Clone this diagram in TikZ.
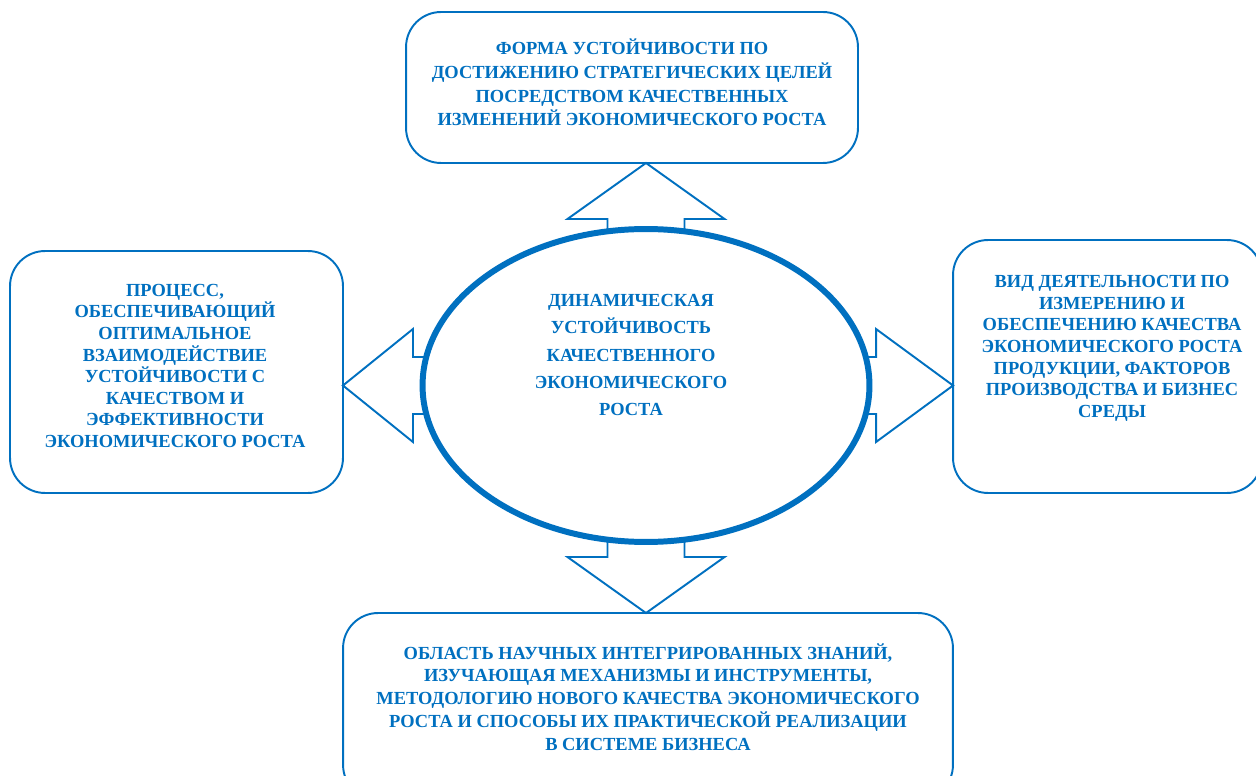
\documentclass[tikz,border=0pt]{standalone}
\usepackage{fontspec}
\setmainfont{Liberation Serif}
\usetikzlibrary{shapes.geometric}

\definecolor{ublue}{HTML}{0070C0}

\tikzset{
  box/.style={draw=ublue, line width=1.1pt, rounded corners=0.7cm, fill=white, inner sep=0pt, outer sep=0pt},
  txt/.style={text=ublue, align=center, inner sep=0pt},
  blockarrow/.style={draw=ublue, line width=1.1pt, fill=white, line join=miter},
}

\begin{document}
\begin{tikzpicture}[x=0.02cm,y=-0.02cm]

    \useasboundingbox (0,0) rectangle (1256,776);
    \clip (0,0) rectangle (1256,776);

    % outer boxes
    \node[box, minimum width=9.04cm, minimum height=3.02cm] (top) at (632,87.5) {};
    \node[box, minimum width=6.66cm, minimum height=4.84cm] (left) at (176.5,372) {};
    \node[box, minimum width=6.18cm, minimum height=5.06cm] (right) at (1107.5,366.5) {};
    \node[box, minimum width=12.2cm, minimum height=3.74cm] (bottom) at (648,706.5) {};

    % centre of the ellipse
    \coordinate (c) at (646,385.5);

    % block arrows
    \draw[blockarrow] (c |- top.south) -- ++(78.5,56) -- ++(-40,0) -- ++(0,50)
      -- ++(-77,0) -- ++(0,-50) -- ++(-40,0) -- cycle;
    \draw[blockarrow] (c |- bottom.north) -- ++(78.5,-56) -- ++(-40,0) -- ++(0,-50)
      -- ++(-77,0) -- ++(0,50) -- ++(-40,0) -- cycle;
    \draw[blockarrow] (left.east |- c) -- ++(70,-56.5) -- ++(0,28) -- ++(50,0)
      -- ++(0,57) -- ++(-50,0) -- ++(0,28) -- cycle;
    \draw[blockarrow] (right.west |- c) -- ++(-77,-56.5) -- ++(0,28) -- ++(-50,0)
      -- ++(0,57) -- ++(50,0) -- ++(0,28) -- cycle;

    % central ellipse
    \node[ellipse, draw=ublue, line width=3.4pt, fill=white, inner sep=0pt,
      minimum width=8.94cm, minimum height=6.26cm] (ell) at (c) {};

    % texts
    \node[txt, font=\bfseries\fontsize{10.5}{15.6}\selectfont] (elltext) at (631,355)
      {ДИНАМИЧЕСКАЯ\\УСТОЙЧИВОСТЬ\\КАЧЕСТВЕННОГО\\ЭКОНОМИЧЕСКОГО\\РОСТА};
    \node[txt, font=\bfseries\fontsize{10.5}{13.5}\selectfont] (toptext) at (632,82.5)
      {ФОРМА УСТОЙЧИВОСТИ ПО\\ДОСТИЖЕНИЮ СТРАТЕГИЧЕСКИХ ЦЕЛЕЙ\\ПОСРЕДСТВОМ КАЧЕСТВЕННЫХ\\ИЗМЕНЕНИЙ ЭКОНОМИЧЕСКОГО РОСТА};
    \node[txt, font=\bfseries\fontsize{10.5}{12.3}\selectfont] (lefttext) at (175,365.8)
      {ПРОЦЕСС,\\ОБЕСПЕЧИВАЮЩИЙ\\ОПТИМАЛЬНОЕ\\ВЗАИМОДЕЙСТВИЕ\\УСТОЙЧИВОСТИ С\\КАЧЕСТВОМ И\\ЭФФЕКТИВНОСТИ\\ЭКОНОМИЧЕСКОГО РОСТА};
    \node[txt, font=\bfseries\fontsize{10.5}{12.3}\selectfont] (righttext) at (1112,348.3)
      {ВИД ДЕЯТЕЛЬНОСТИ ПО\\ИЗМЕРЕНИЮ И\\ОБЕСПЕЧЕНИЮ КАЧЕСТВА\\ЭКОНОМИЧЕСКОГО РОСТА\\ПРОДУКЦИИ, ФАКТОРОВ\\ПРОИЗВОДСТВА И БИЗНЕС\\СРЕДЫ};
    \node[txt, font=\bfseries\fontsize{10.5}{13}\selectfont] (bottomtext) at (648,697)
      {ОБЛАСТЬ НАУЧНЫХ ИНТЕГРИРОВАННЫХ ЗНАНИЙ,\\ИЗУЧАЮЩАЯ МЕХАНИЗМЫ И ИНСТРУМЕНТЫ,\\МЕТОДОЛОГИЮ НОВОГО КАЧЕСТВА ЭКОНОМИЧЕСКОГО\\РОСТА И СПОСОБЫ ИХ ПРАКТИЧЕСКОЙ РЕАЛИЗАЦИИ\\В СИСТЕМЕ БИЗНЕСА};

\end{tikzpicture}
\end{document}
